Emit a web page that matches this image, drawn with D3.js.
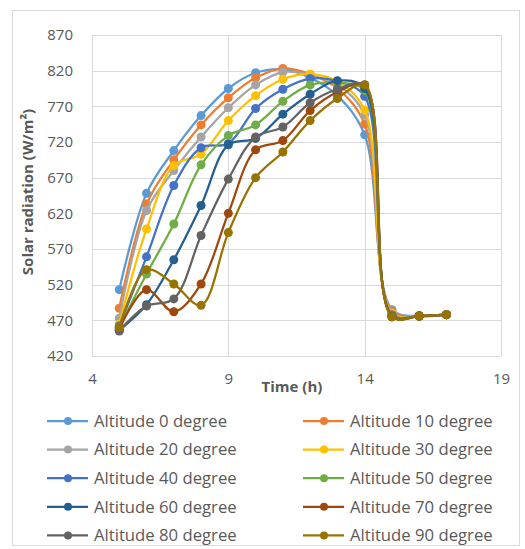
<!DOCTYPE html>
<html>
<head>
<meta charset="utf-8">
<script src="https://cdnjs.cloudflare.com/ajax/libs/d3/7.8.5/d3.min.js"></script>
<style>
  body { margin: 0; background: #fff; }
  text { font-family: "Open Sans", sans-serif; }
</style>
</head>
<body>
<svg id="visualisation" width="525" height="549"></svg>
<script>
// hours of the day
var hours = [5, 6, 7, 8, 9, 10, 11, 12, 13, 14, 15, 16, 17];

var alt0  = [513, 648, 708, 757, 795, 817, 822, 810, 785, 730, 485, 476, 478];
var alt10 = [487, 633, 695, 744, 782, 810, 823, 815, 795, 745, 483, 476, 478];
var alt20 = [473, 624, 680, 727, 768, 800, 818, 814, 800, 758, 480, 476, 478];
var alt30 = [465, 598, 687, 703, 750, 785, 808, 815, 805, 765, 480, 476, 478];
var alt40 = [462, 559, 659, 712, 718, 767, 794, 809, 805, 784, 478, 476, 478];
var alt50 = [460, 535, 605, 688, 729, 744, 777, 800, 803, 792, 477, 476, 478];
var alt60 = [456, 492, 555, 631, 716, 725, 759, 787, 806, 795, 476, 476, 478];
var alt70 = [458, 513, 482, 521, 620, 709, 722, 764, 790, 800, 475, 476, 478];
var alt80 = [455, 490, 500, 589, 668, 727, 741, 775, 794, 800, 475, 476, 478];
var alt90 = [460, 541, 521, 491, 593, 670, 706, 750, 781, 800, 475, 476, 478];

var seriesNames = ["Altitude 0 degree", "Altitude 10 degree", "Altitude 20 degree", "Altitude 30 degree",
  "Altitude 40 degree", "Altitude 50 degree", "Altitude 60 degree", "Altitude 70 degree",
  "Altitude 80 degree", "Altitude 90 degree"];
var seriesValues = [alt0, alt10, alt20, alt30, alt40, alt50, alt60, alt70, alt80, alt90];

var xTicks = [4, 9, 14, 19];
var yTicks = [420, 470, 520, 570, 620, 670, 720, 770, 820, 870];

var colors = ["#5B9BD5", "#ED7D31", "#A5A5A5", "#FFC000", "#4472C4",
  "#70AD47", "#255E91", "#9E480E", "#636363", "#997300"];

var vis = d3.select("#visualisation"),
    MARGINS = { top: 35, right: 24, bottom: 193, left: 92 },
    WIDTH = 525,
    HEIGHT = 549,
    xScale = d3.scaleLinear().domain([4, 19]).range([MARGINS.left, WIDTH - MARGINS.right]),
    yScale = d3.scaleLinear().domain([420, 870]).range([HEIGHT - MARGINS.bottom, MARGINS.top]);

var textColor = "#595959", gridColor = "#d9d9d9";

// chart border
vis.append("rect")
  .attr("x", 12.5).attr("y", 10.5)
  .attr("width", 507).attr("height", 535)
  .attr("fill", "none")
  .attr("stroke", gridColor);

// grid
vis.append("g").selectAll("line").data(yTicks).join("line")
  .attr("x1", xScale(4)).attr("x2", xScale(19))
  .attr("y1", function(d) { return Math.round(yScale(d)) + 0.5; })
  .attr("y2", function(d) { return Math.round(yScale(d)) + 0.5; })
  .attr("stroke", gridColor);

vis.append("g").selectAll("line").data(xTicks).join("line")
  .attr("x1", function(d) { return Math.round(xScale(d)) + 0.5; })
  .attr("x2", function(d) { return Math.round(xScale(d)) + 0.5; })
  .attr("y1", yScale(420)).attr("y2", yScale(870))
  .attr("stroke", gridColor);

// axes (labels only)
var xAxis = d3.axisBottom(xScale).tickValues(xTicks).tickSize(0).tickPadding(17);
var gx = vis.append("g")
  .attr("transform", "translate(0," + yScale(420) + ")")
  .call(xAxis);

var yAxis = d3.axisLeft(yScale).tickValues(yTicks).tickSize(0).tickPadding(19);
var gy = vis.append("g")
  .attr("transform", "translate(" + xScale(4) + ",0)")
  .call(yAxis);

[gx, gy].forEach(function(g) {
  g.select(".domain").remove();
  g.selectAll("text")
    .attr("fill", textColor)
    .style("font-size", "15px")
    .style("font-family", "'Open Sans', sans-serif");
});

vis.append("text")
  .attr("x", 292).attr("y", 392)
  .attr("text-anchor", "middle")
  .attr("fill", textColor)
  .style("font-size", "15px").style("font-weight", "bold")
  .text("Time (h)");

vis.append("text")
  .attr("transform", "translate(33,192) rotate(-90)")
  .attr("text-anchor", "middle")
  .attr("fill", textColor)
  .style("font-size", "15px").style("font-weight", "bold")
  .text("Solar radiation (W/m²)");

// lines
var lineGen = d3.line()
  .x(function(d, i) { return xScale(hours[i]); })
  .y(function(d) { return yScale(d); })
  .curve(d3.curveCatmullRom);

seriesValues.forEach(function(vals, k) {
  var g = vis.append("g");
  g.append("path")
    .attr("d", lineGen(vals))
    .attr("stroke", colors[k])
    .attr("stroke-width", 2.25)
    .attr("fill", "none");
  g.selectAll("circle").data(vals).join("circle")
    .attr("cx", function(d, i) { return xScale(hours[i]); })
    .attr("cy", function(d) { return yScale(d); })
    .attr("r", 4.5)
    .attr("fill", colors[k]);
});

// legend
var legend = vis.append("g").selectAll("g").data(seriesNames).join("g")
  .attr("transform", function(d, i) {
    var col = i % 2, row = Math.floor(i / 2);
    return "translate(" + (col ? 303 : 47) + "," + (421 + row * 28.6) + ")";
  });

legend.append("line")
  .attr("x1", 0).attr("x2", 41)
  .attr("stroke", function(d, i) { return colors[i]; })
  .attr("stroke-width", 2.25);
legend.append("circle")
  .attr("cx", 21).attr("r", 4)
  .attr("fill", function(d, i) { return colors[i]; });
legend.append("text")
  .attr("x", 47).attr("dy", "0.35em")
  .attr("fill", textColor)
  .style("font-size", "16.7px")
  .text(function(d) { return d; });
</script>
</body>
</html>
